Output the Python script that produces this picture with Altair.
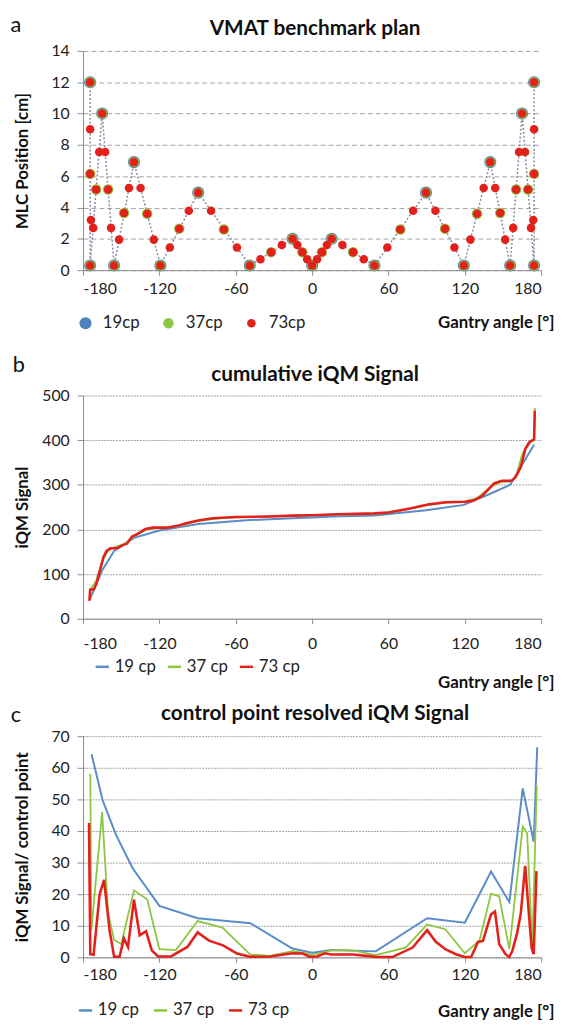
import altair as alt
import pandas as pd

FONT = "Lato"
ANGLE_TICKS = [-180, -120, -60, 0, 60, 120, 180]
W = 464
HA, HB, HC = 222, 226, 224

# ---------------- panel a : MLC position ----------------
cp19_x = [-174.4, -174.4, -165.0, -155.6, -140.0, -119.2, -89.5, -49.0, -15.4, 0.0,
          15.4, 49.0, 89.5, 119.2, 140.0, 155.6, 165.0, 174.4, 174.4]
cp19_y = [12.0, 0.3, 10.0, 0.3, 6.9, 0.3, 4.95, 0.3, 2.0, 0.3,
          2.0, 0.3, 4.95, 0.3, 6.9, 0.3, 10.0, 0.3, 12.0]

cp37_x = [-174.4, -174.4, -174.4, -169.7, -165.0, -160.3, -155.6, -147.8, -140.0, -129.6,
          -119.2, -104.4, -89.5, -69.3, -49.0, -32.2, -15.4, -7.7, 0.0, 7.7,
          15.4, 32.2, 49.0, 69.3, 89.5, 104.4, 119.2, 129.6, 140.0, 147.8,
          155.6, 160.3, 165.0, 169.7, 174.4, 174.4, 174.4]
cp37_y = [12.0, 6.15, 0.3, 5.15, 10.0, 5.15, 0.3, 3.65, 6.9, 3.6,
          0.3, 2.65, 4.95, 2.6, 0.3, 1.15, 2.0, 1.15, 0.3, 1.15,
          2.0, 1.15, 0.3, 2.6, 4.95, 2.65, 0.3, 3.6, 6.9, 3.65,
          0.3, 5.15, 10.0, 5.15, 0.3, 6.15, 12.0]

cp73_x = [-174.4, -174.4, -174.4, -173.8, -174.4, -172.0, -169.7, -167.3, -165.0, -162.6,
          -160.3, -158.0, -155.6, -151.7, -147.8, -143.9, -140.0, -134.8, -129.6, -124.4,
          -119.2, -111.8, -104.4, -96.9, -89.5, -79.4, -69.3, -59.1, -49.0, -40.6,
          -32.2, -23.8, -15.4, -11.6, -7.7, -3.9, 0.0, 3.9, 7.7, 11.6,
          15.4, 23.8, 32.2, 40.6, 49.0, 59.1, 69.3, 79.4, 89.5, 96.9,
          104.4, 111.8, 119.2, 124.4, 129.6, 134.8, 140.0, 143.9, 147.8, 151.7,
          155.6, 158.0, 160.3, 162.6, 165.0, 167.3, 169.7, 172.0, 174.4, 173.8,
          174.4, 174.4, 174.4]
cp73_y = [12.0, 9.0, 6.15, 3.2, 0.3, 2.7, 5.15, 7.55, 10.0, 7.55,
          5.15, 2.7, 0.3, 1.95, 3.65, 5.25, 6.9, 5.25, 3.6, 1.95,
          0.3, 1.45, 2.65, 3.8, 4.95, 3.8, 2.6, 1.45, 0.3, 0.7,
          1.15, 1.6, 2.0, 1.6, 1.15, 0.7, 0.3, 0.7, 1.15, 1.6,
          2.0, 1.6, 1.15, 0.7, 0.3, 1.45, 2.6, 3.8, 4.95, 3.8,
          2.65, 1.45, 0.3, 1.95, 3.6, 5.25, 6.9, 5.25, 3.65, 1.95,
          0.3, 2.7, 5.15, 7.55, 10.0, 7.55, 5.15, 2.7, 0.3, 3.2,
          6.15, 9.0, 12.0]

# ---------------- panel b : cumulative iQM signal ----------------
cum19_x = [-174.4, -165.0, -155.6, -140.0, -119.2, -89.5, -49.0, -15.4, 0.0, 15.4,
           49.0, 89.5, 119.2, 140.0, 155.6, 165.0, 174.4]
cum19_y = [45, 108, 152, 181, 198, 212, 221, 225, 227, 229,
           231, 243, 255, 280, 300, 345, 390]

cum37_x = [-174.4, -174.4, -169.7, -165.0, -160.3, -155.6, -147.8, -140.0, -129.6, -119.2,
           -104.4, -89.5, -69.3, -49.0, -32.2, -15.4, 0.0, 15.4, 32.2, 49.0,
           69.3, 89.5, 104.4, 119.2, 129.6, 140.0, 147.8, 155.6, 160.3, 165.0,
           169.7, 174.4, 175.0]
cum37_y = [42, 64, 85, 128, 152, 160, 167, 185, 200, 203,
           208, 219, 226, 228, 229, 231, 232, 233, 234, 235,
           242, 254, 260, 262, 270, 295, 306, 307, 320, 368,
           394, 400, 472]

cum73_x = [-175.0, -174.4, -171.5, -169.5, -166.5, -164.0, -161.5, -158.5, -153.0, -149.0,
           -145.5, -141.5, -137.0, -131.0, -125.0, -114.0, -106.0, -99.0, -89.5, -78.0,
           -60.0, -35.0, -15.0, 0.0, 20.0, 49.0, 60.0, 77.0, 91.0, 105.0,
           120.0, 126.0, 133.0, 138.0, 143.0, 149.0, 157.0, 160.0, 164.0, 167.5,
           171.0, 174.4, 175.0]
cum73_y = [40, 65, 66, 78, 110, 138, 152, 158, 158, 165,
           168, 184, 190, 201, 204, 204, 208, 214, 220, 225,
           228, 229, 231, 232, 234, 236, 238, 247, 256, 261,
           262, 264, 274, 288, 303, 309, 309, 318, 340, 380,
           396, 402, 466]

# ---------------- panel c : control point resolved iQM signal ----------------
res19_x = [-173.3, -164.5, -154.0, -141.0, -120.0, -90.0, -48.5, -15.5, 0.0, 15.2,
           50.0, 90.4, 120.0, 140.6, 155.0, 165.5, 174.1, 176.9]
res19_y = [64.3, 49.6, 38.7, 28.2, 16.3, 12.4, 10.8, 2.8, 1.5, 2.3,
           1.9, 12.4, 11.0, 27.2, 17.5, 53.5, 36.6, 66.5]

res37_x = [-174.3, -173.5, -165.0, -160.3, -155.6, -150.0, -140.0, -129.5, -120.0, -107.0,
           -90.0, -70.5, -48.5, -33.0, -15.5, -7.5, 0.0, 7.5, 15.2, 32.0,
           50.0, 73.5, 90.4, 104.6, 120.0, 131.6, 140.6, 147.0, 155.0, 165.5,
           169.0, 173.0, 176.5]
res37_y = [58.0, 8.5, 46.0, 14.0, 5.5, 4.2, 21.2, 18.3, 2.6, 2.3,
           11.5, 9.4, 0.9, 0.5, 2.0, 1.5, 0.8, 1.5, 2.2, 2.2,
           0.7, 3.1, 10.4, 8.9, 1.3, 5.4, 20.2, 19.3, 2.6, 41.3,
           39.2, 3.0, 54.3]

res73_x = [-175.3, -174.3, -171.7, -167.0, -163.5, -159.1, -155.6, -151.3, -147.9, -144.7,
           -140.0, -135.5, -130.5, -126.0, -121.0, -111.0, -98.0, -90.0, -81.0, -70.0,
           -59.0, -49.0, -33.0, -15.5, -7.5, -2.0, 4.0, 10.0, 15.0, 32.0,
           45.0, 50.5, 63.0, 79.0, 90.4, 97.0, 104.6, 113.0, 120.0, 125.0,
           130.3, 134.2, 140.6, 143.7, 147.0, 152.0, 154.8, 157.3, 161.0, 164.0,
           167.4, 170.5, 172.5, 174.1, 176.3]
res73_y = [42.5, 1.0, 0.8, 19.9, 24.5, 8.4, 0.2, 0.2, 6.0, 3.3,
           18.3, 7.0, 8.3, 2.2, 0.3, 0.3, 3.3, 7.9, 5.3, 3.8,
           1.2, 0.2, 0.3, 1.3, 1.2, 0.2, 0.3, 1.3, 0.9, 0.9,
           0.4, 0.1, 0.1, 3.1, 8.6, 5.0, 2.6, 1.0, 0.1, 0.1,
           4.9, 5.2, 13.6, 14.5, 4.2, 1.0, 0.1, 2.0, 7.5, 14.0,
           29.0, 13.0, 3.0, 1.0, 27.3]

BLUE, GREEN, RED = "#4F81BD", "#8DC641", "#E3211C"
LINE_BLUE = "#5B8CC8"


def frame(xs, ys, name, z):
    return pd.DataFrame({"angle": xs, "value": ys, "series": name,
                         "idx": list(range(len(xs))), "z": z})


def x_axis(title_y, lab_pad):
    return alt.X("angle:Q", scale=alt.Scale(domain=[-180, 180], nice=False),
                 axis=alt.Axis(values=ANGLE_TICKS, labelExpr="'' + datum.value",
                               title="Gantry angle [°]", titleAnchor="end",
                               titleAlign="right", titleX=W + 13, titleY=title_y,
                               titleBaseline="middle", grid=False, tickSize=5,
                               labelPadding=lab_pad))


def y_axis(domain, step, title, h, dash):
    vals = list(range(domain[0], domain[1] + 1, step))
    return alt.Y("value:Q", scale=alt.Scale(domain=domain, nice=False),
                 axis=alt.Axis(values=vals, title=title, titleX=-61, titleY=h / 2,
                               titleAngle=270, titleAlign="center",
                               titleBaseline="middle", gridDash=dash, tickSize=6,
                               labelPadding=8))


def texts(ltr, lx, ly, title, ty):
    one = pd.DataFrame({"t": [ltr]})
    two = pd.DataFrame({"t": [title]})
    a = alt.Chart(one).mark_text(font=FONT, fontSize=22, color="#111", align="center",
                                 baseline="alphabetic").encode(
        x=alt.value(lx), y=alt.value(ly), text="t:N")
    b = alt.Chart(two).mark_text(font=FONT, fontSize=21, fontWeight="bold", color="#111",
                                 align="center", baseline="alphabetic").encode(
        x=alt.value(W / 2 + 3), y=alt.value(ty), text="t:N")
    return [a, b]


# ---- panel a
da19 = frame(cp19_x, cp19_y, "19cp", 0)
da37 = frame(cp37_x, cp37_y, "37cp", 1)
da73 = frame(cp73_x, cp73_y, "73cp", 2)
dots = pd.concat([da19, da37, da73], ignore_index=True)

XA = x_axis(53, 6)
YA = y_axis([0, 14], 2, "MLC Position [cm]", HA, [5, 3])
leg_a = dict(title=None, orient="none", legendX=-6, legendY=HA + 45,
             direction="horizontal", columnPadding=20, labelOffset=9)

path = alt.Chart(da19).mark_line(color="#7F8CA3", strokeDash=[2, 2], strokeWidth=1.5).encode(
    x=XA, y=YA, order="idx:Q")

pts = alt.Chart(dots).mark_circle(opacity=1).encode(
    x=XA, y=YA,
    color=alt.Color("series:N", scale=alt.Scale(domain=["19cp", "37cp", "73cp"],
                                                range=[BLUE, GREEN, RED]),
                    legend=alt.Legend(**leg_a)),
    size=alt.Size("series:N", scale=alt.Scale(domain=["19cp", "37cp", "73cp"],
                                              range=[150, 75, 30]),
                  legend=alt.Legend(**leg_a)),
    order=alt.Order("z:Q"))

panel_a = alt.layer(path, pts, *texts("a", -68, -18.7, "VMAT benchmark plan", -16)).properties(
    width=W, height=HA)


# ---- panels b and c
def line_panel(s19, s37, s73, domain, step, ytitle, h, ltr, lx, ly, title, ty,
               legx, legy, colpad, xty, lpad):
    df = pd.concat([frame(*s19, "19 cp", 0), frame(*s37, "37 cp", 1),
                    frame(*s73, "73 cp", 2)], ignore_index=True)
    color = alt.Color("series:N",
                      scale=alt.Scale(domain=["19 cp", "37 cp", "73 cp"],
                                      range=[LINE_BLUE, GREEN, RED]),
                      legend=alt.Legend(title=None, orient="none", legendX=legx,
                                        legendY=h + legy, direction="horizontal",
                                        symbolType="stroke", symbolStrokeWidth=2.5,
                                        columnPadding=colpad, symbolSize=180,
                                        labelOffset=4))
    xa = x_axis(xty, lpad)
    ya = y_axis(domain, step, ytitle, h, [2, 1])
    layers = []
    for name, sw in [("19 cp", 2.0), ("37 cp", 1.8), ("73 cp", 2.6)]:
        layers.append(alt.Chart(df).transform_filter(alt.datum.series == name)
                      .mark_line(strokeWidth=sw)
                      .encode(x=xa, y=ya, color=color, order="idx:Q"))
    layers += texts(ltr, lx, ly, title, ty)
    return alt.layer(*layers).properties(width=W, height=h)


panel_b = line_panel((cum19_x, cum19_y), (cum37_x, cum37_y), (cum73_x, cum73_y),
                     [0, 500], 100, "iQM Signal", HB, "b", -65, -24.3,
                     "cumulative iQM Signal", -15, 11, 40, 6, 65, 12)
panel_c = line_panel((res19_x, res19_y), (res37_x, res37_y), (res73_x, res73_y),
                     [0, 70], 10, "iQM Signal/ control point", HC, "c", -68, -14.3,
                     "control point resolved iQM Signal", -16.3, -6, 45, 9, 55, 4)

top = alt.vconcat(panel_a, panel_b, spacing=22).resolve_scale(
    color="independent", size="independent").resolve_legend(
    color="independent", size="independent")

chart = alt.vconcat(top, panel_c, spacing=12).resolve_scale(
    color="independent", size="independent").resolve_legend(
    color="independent", size="independent").configure(
    padding={"left": 2, "top": 0, "right": 2, "bottom": 0},
    font=FONT,
).configure_view(stroke=None).configure_axis(
    labelFont=FONT, titleFont=FONT, labelFontSize=16, titleFontSize=17,
    titleFontWeight="bold", labelColor="#222", titleColor="#111",
    domainColor="#8c8c8c", tickColor="#8c8c8c",
    gridColor="#8a8a8a", gridWidth=0.8,
).configure_legend(
    labelFont=FONT, labelFontSize=17, labelColor="#222")

chart.save("out.html", embed_options={"renderer": "svg", "actions": False})
